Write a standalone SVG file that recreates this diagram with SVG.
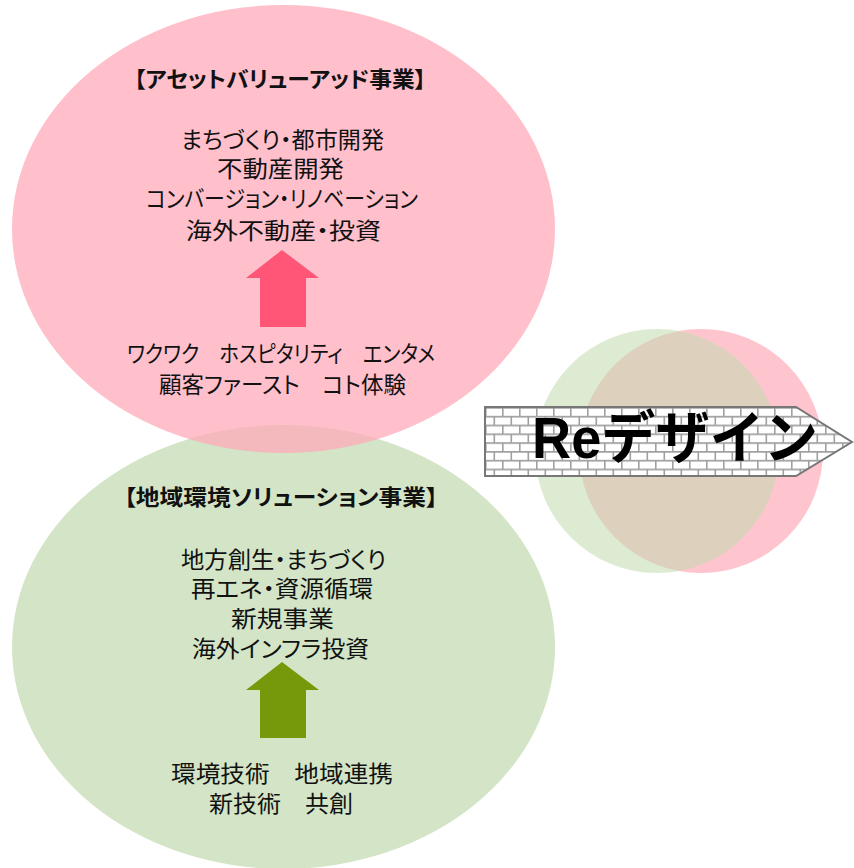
<svg xmlns="http://www.w3.org/2000/svg" width="854" height="868" viewBox="0 0 854 868">
<style>
.t{font-family:"Liberation Sans","Noto Sans CJK JP","Noto Sans CJK SC",sans-serif;font-size:23px;fill:#111;font-feature-settings:"palt"}
.h{font-family:"Liberation Sans","Noto Sans CJK JP","Noto Sans CJK SC",sans-serif;font-size:22px;font-weight:bold;fill:#111;font-feature-settings:"palt"}
.re{font-family:"Liberation Sans","Noto Sans CJK JP",sans-serif;font-size:57px;font-weight:bold;fill:#000}
</style>
<defs>
<pattern id="brick" patternUnits="userSpaceOnUse" x="485" y="407" width="17" height="17.6">
<rect width="17" height="17.6" fill="#fff"/>
<path d="M0 0.8H17M0 9.6H17M0.8 0V9.6M9.3 9.6V17.6" stroke="#a0a0a0" stroke-width="1.6" fill="none"/>
</pattern>
</defs>
<rect width="854" height="868" fill="#fff"/>
<g id="bg-circles">
<circle cx="701" cy="451" r="122" fill="#ffc5cf"/>
<circle cx="657" cy="451" r="122" fill="#c1daaf" fill-opacity="0.55"/>
</g>
<g id="green-node">
<ellipse cx="283.5" cy="647" rx="271.5" ry="222" fill="#d3e5c6"/>
<text class="h" x="124" y="505" textLength="314" lengthAdjust="spacingAndGlyphs">【地域環境ソリューション事業】</text>
<text class="t"><tspan x="181" y="568" textLength="205" lengthAdjust="spacingAndGlyphs">地方創生・まちづくり</tspan><tspan x="191" y="597" textLength="182" lengthAdjust="spacingAndGlyphs">再エネ・資源循環</tspan><tspan x="231" y="626.5" textLength="103" lengthAdjust="spacingAndGlyphs">新規事業</tspan><tspan x="192" y="656.5" textLength="177" lengthAdjust="spacingAndGlyphs">海外インフラ投資</tspan></text>
<path d="M282 662L319 690H306V738H260V690H246Z" fill="#76990b"/>
<text class="t" xml:space="preserve"><tspan x="171" y="781.5" textLength="222" lengthAdjust="spacingAndGlyphs">環境技術　地域連携</tspan><tspan x="209" y="811.5" textLength="144" lengthAdjust="spacingAndGlyphs">新技術　共創</tspan></text>
</g>
<g id="pink-node">
<ellipse cx="283.5" cy="229" rx="271.5" ry="224" fill="#ffa9b9" fill-opacity="0.75"/>
<text class="h" x="134" y="86.5" textLength="292" lengthAdjust="spacingAndGlyphs">【アセットバリューアッド事業】</text>
<text class="t"><tspan x="181" y="148" textLength="203" lengthAdjust="spacingAndGlyphs">まちづくり・都市開発</tspan><tspan x="217" y="177" textLength="127" lengthAdjust="spacingAndGlyphs">不動産開発</tspan><tspan x="146" y="207" textLength="272" lengthAdjust="spacingAndGlyphs">コンバージョン・リノベーション</tspan><tspan x="186" y="238.5" textLength="195" lengthAdjust="spacingAndGlyphs">海外不動産・投資</tspan></text>
<path d="M282 250L319 278H306V327H260V278H246Z" fill="#ff5577"/>
<text class="t" xml:space="preserve"><tspan x="127" y="361.5" textLength="308" lengthAdjust="spacingAndGlyphs">ワクワク　ホスピタリティ　エンタメ</tspan><tspan x="159" y="393" textLength="247" lengthAdjust="spacingAndGlyphs">顧客ファースト　コト体験</tspan></text>
</g>
<g id="redesign-arrow">
<path d="M485 407H796L852 442L796 476H485Z" fill="url(#brick)" stroke="#777" stroke-width="2"/>
<text class="re" x="532" y="458" textLength="286" lengthAdjust="spacingAndGlyphs">Reデザイン</text>
</g>
<g id="connectors"></g>
</svg>
